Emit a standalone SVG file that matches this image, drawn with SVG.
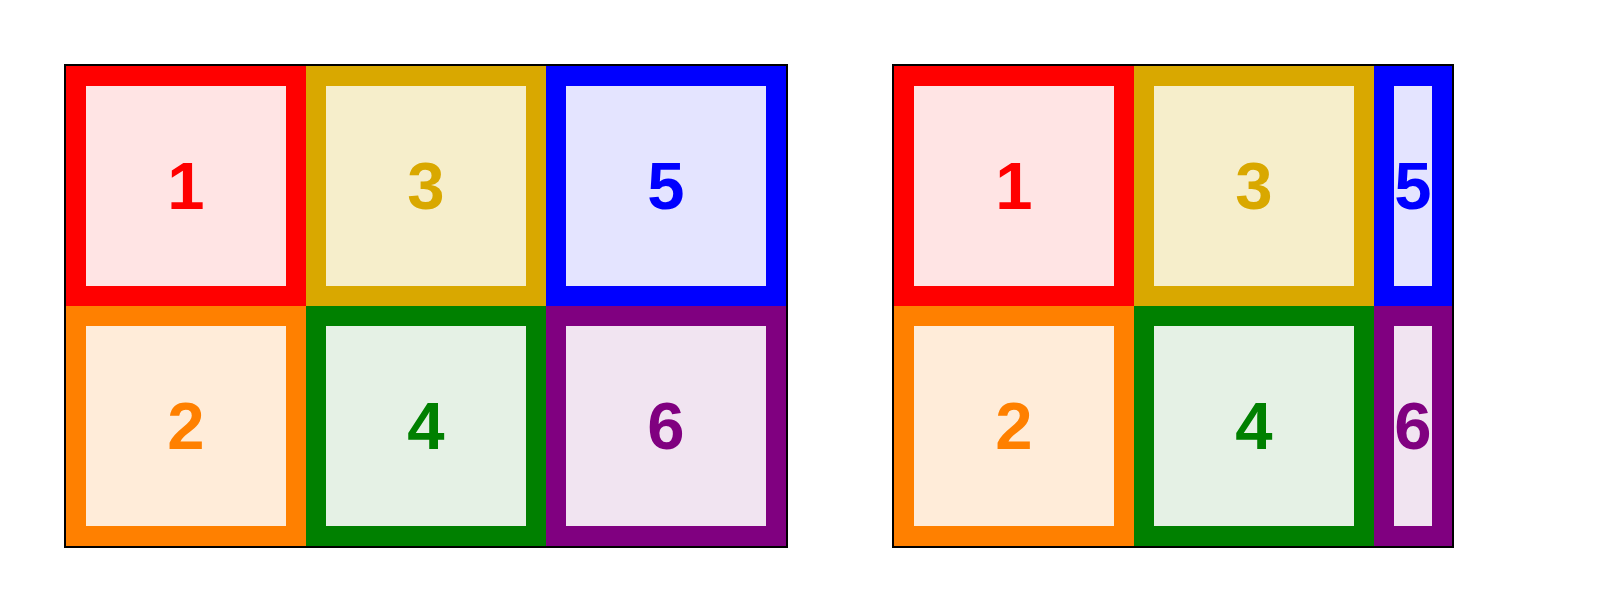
<svg xmlns="http://www.w3.org/2000/svg" width="1618" height="612" viewBox="0 0 1618 612">
<style>
.c rect{stroke-width:20}
.t{font-family:"Liberation Sans","DejaVu Sans",sans-serif;font-weight:bold;font-size:67px;text-anchor:middle}
.r rect{stroke:#ff0000;fill:#ffe4e4}.r text{fill:#ff0000}
.o rect{stroke:#ff8000;fill:#ffecd9}.o text{fill:#ff8000}
.y rect{stroke:#d9a800;fill:#f6eecb}.y text{fill:#d9a800}
.g rect{stroke:#008000;fill:#e5f1e5}.g text{fill:#008000}
.b rect{stroke:#0000ff;fill:#e4e4ff}.b text{fill:#0000ff}
.p rect{stroke:#800080;fill:#f1e4f1}.p text{fill:#800080}
.frame{fill:none;stroke:#000;stroke-width:2}
</style>
<rect width="1618" height="612" fill="#fff"/>
<g id="left">
<g id="l1" class="c r"><rect x="76" y="76" width="220" height="220"/><text class="t" x="186" y="209">1</text></g>
<g id="l2" class="c o"><rect x="76" y="316" width="220" height="220"/><text class="t" x="186" y="449">2</text></g>
<g id="l3" class="c y"><rect x="316" y="76" width="220" height="220"/><text class="t" x="426" y="209">3</text></g>
<g id="l4" class="c g"><rect x="316" y="316" width="220" height="220"/><text class="t" x="426" y="449">4</text></g>
<g id="l5" class="c b"><rect x="556" y="76" width="220" height="220"/><text class="t" x="666" y="209">5</text></g>
<g id="l6" class="c p"><rect x="556" y="316" width="220" height="220"/><text class="t" x="666" y="449">6</text></g>
<rect class="frame" x="65" y="65" width="722" height="482"/>
</g>
<g id="right">
<g id="r1" class="c r"><rect x="904" y="76" width="220" height="220"/><text class="t" x="1014" y="209">1</text></g>
<g id="r2" class="c o"><rect x="904" y="316" width="220" height="220"/><text class="t" x="1014" y="449">2</text></g>
<g id="r3" class="c y"><rect x="1144" y="76" width="220" height="220"/><text class="t" x="1254" y="209">3</text></g>
<g id="r4" class="c g"><rect x="1144" y="316" width="220" height="220"/><text class="t" x="1254" y="449">4</text></g>
<g id="r5" class="c b"><rect x="1384" y="76" width="58" height="220"/><text class="t" x="1413" y="209">5</text></g>
<g id="r6" class="c p"><rect x="1384" y="316" width="58" height="220"/><text class="t" x="1413" y="449">6</text></g>
<rect class="frame" x="893" y="65" width="560" height="482"/>
</g>
</svg>
